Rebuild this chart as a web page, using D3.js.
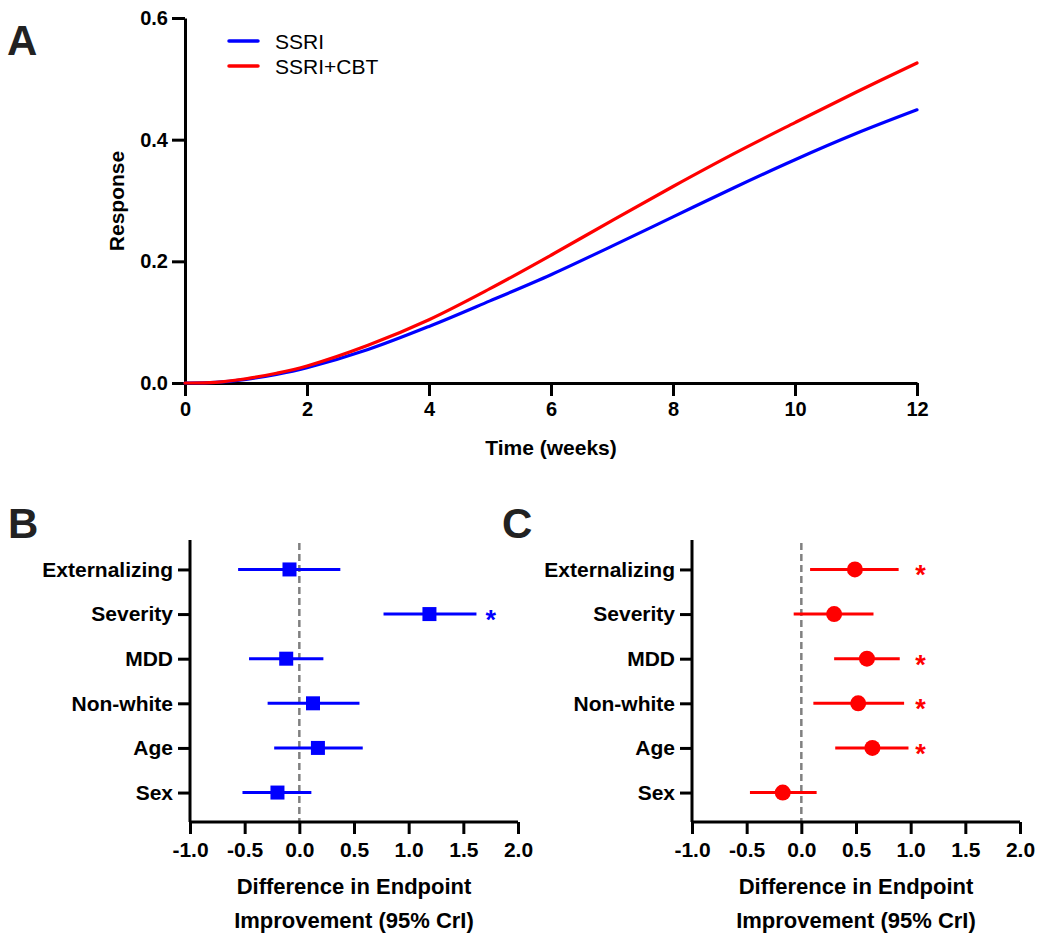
<!DOCTYPE html>
<html><head><meta charset="utf-8">
<script src="https://cdn.jsdelivr.net/npm/d3@7"></script>
<style>
body{margin:0;background:#fff;}
svg text{font-family:"Liberation Sans",Arial,Helvetica,sans-serif;}
</style></head>
<body><svg id="c" width="1050" height="936"></svg>
<script>
// Panel A data
const weeks = [0,0.5,1,1.5,2,3,4,5,6,7,8,9,10,11,12];
const ssri = [0,0.001,0.006,0.014,0.025,0.055,0.093,0.135,0.178,0.225,0.273,0.321,0.367,0.41,0.449];
const ssriCbt = [0,0.001,0.007,0.016,0.028,0.062,0.104,0.155,0.21,0.267,0.323,0.377,0.428,0.478,0.526];
const seriesNames = ["SSRI","SSRI+CBT"];
const seriesColors = ["#0000ff","#ff0000"];
const yTicksA = [0,0.2,0.4,0.6];
const xTicksA = [0,2,4,6,8,10,12];

// Panels B/C data
const categories = ["Externalizing","Severity","MDD","Non-white","Age","Sex"];
const bEst = [-0.09,1.19,-0.12,0.125,0.17,-0.2];
const bLow = [-0.56,0.77,-0.46,-0.29,-0.23,-0.52];
const bHigh = [0.375,1.62,0.22,0.55,0.58,0.11];
const bSig = [false,true,false,false,false,false];
const cEst = [0.49,0.3,0.6,0.52,0.65,-0.17];
const cLow = [0.08,-0.07,0.3,0.11,0.31,-0.47];
const cHigh = [0.89,0.66,0.9,0.94,0.98,0.14];
const cSig = [true,false,true,true,true,false];
const xTicksBC = [-1.0,-0.5,0.0,0.5,1.0,1.5,2.0];

const svg = d3.select("#c");
const F = "Liberation Sans,Arial,Helvetica,sans-serif";
const fmt1 = v => d3.format(".1f")(v).replace("\u2212","-");

function styleAxis(g, fs){
  g.select(".domain").attr("stroke","#000").attr("stroke-width",3);
  g.selectAll(".tick line").attr("stroke","#000").attr("stroke-width",3);
  g.selectAll(".tick text").attr("fill","#000").attr("font-size",fs).attr("font-weight","bold").attr("font-family",F);
}

// ---------- Panel A ----------
const xA = d3.scaleLinear().domain([0,12]).range([185,917]);
const yA = d3.scaleLinear().domain([0,0.6]).range([383,18]);

const gx = svg.append("g").attr("transform","translate(0,383)")
  .call(d3.axisBottom(xA).tickValues(xTicksA).tickFormat(d3.format("d")).tickSize(13).tickPadding(6).tickSizeOuter(0));
styleAxis(gx,20);
const gy = svg.append("g").attr("transform","translate(185,0)")
  .call(d3.axisLeft(yA).tickValues(yTicksA).tickFormat(fmt1).tickSize(13).tickPadding(4).tickSizeOuter(0));
styleAxis(gy,20);

const line = d3.line().x((d,i)=>xA(weeks[i])).y(d=>yA(d)).curve(d3.curveCatmullRom.alpha(0.5));
[ssri, ssriCbt].forEach((s,k)=>{
  svg.append("path").datum(s).attr("d",line).attr("fill","none")
    .attr("stroke",seriesColors[k]).attr("stroke-width",3.2).attr("stroke-linecap","round");
});

// legend
seriesNames.forEach((n,k)=>{
  const y = 41 + k*25;
  svg.append("line").attr("x1",229).attr("x2",258).attr("y1",y).attr("y2",y)
    .attr("stroke",seriesColors[k]).attr("stroke-width",3.5).attr("stroke-linecap","round");
  svg.append("text").attr("x",275).attr("y",y+7.5).attr("font-size",21).attr("fill","#000").text(n);
});

svg.append("text").attr("transform","translate(124,201) rotate(-90)").attr("text-anchor","middle")
  .attr("font-size",21).attr("font-weight","bold").text("Response");
svg.append("text").attr("x",551).attr("y",455).attr("text-anchor","middle")
  .attr("font-size",21).attr("font-weight","bold").text("Time (weeks)");
svg.append("text").attr("x",7).attr("y",55).attr("font-size",42).attr("font-weight","bold").attr("fill","#222").text("A");

// ---------- Panels B & C ----------
function forest(x0, est, low, high, sig, color, shape, letter, letterX){
  const x = d3.scaleLinear().domain([-1,2]).range([x0, x0+328]);
  const y = d3.scalePoint().domain(categories).range([540,822]).padding(0.66);

  svg.append("line").attr("x1",x(0)).attr("x2",x(0)).attr("y1",543).attr("y2",822)
    .attr("stroke","#808080").attr("stroke-width",2.5).attr("stroke-dasharray","7,4");

  const ax = svg.append("g").attr("transform","translate(0,822)")
    .call(d3.axisBottom(x).tickValues(xTicksBC).tickFormat(fmt1).tickSize(12).tickPadding(8).tickSizeOuter(0));
  styleAxis(ax,21);
  ax.select(".domain").attr("d",`M${x0},0H${x0+328}`);
  const ay = svg.append("g").attr("transform",`translate(${x0},0)`)
    .call(d3.axisLeft(y).tickSize(12).tickPadding(5).tickSizeOuter(0));
  styleAxis(ay,21);
  ay.select(".domain").attr("d","M0,540V822");

  categories.forEach((c,i)=>{
    svg.append("line").attr("x1",x(low[i])).attr("x2",x(high[i])).attr("y1",y(c)).attr("y2",y(c))
      .attr("stroke",color).attr("stroke-width",3);
    if(shape==="square"){
      svg.append("rect").attr("x",x(est[i])-7).attr("y",y(c)-7).attr("width",14).attr("height",14).attr("fill",color);
    } else {
      svg.append("circle").attr("cx",x(est[i])).attr("cy",y(c)).attr("r",8).attr("fill",color);
    }
    if(sig[i]){
      const sx = shape==="square" ? x(1.75) : x(1.09);
      svg.append("text").attr("x",sx).attr("y",y(c)+15).attr("text-anchor","middle")
        .attr("font-size",27).attr("font-weight","bold").attr("fill",color).text("*");
    }
  });

  const cx = x0+164;
  svg.append("text").attr("x",cx).attr("y",894).attr("text-anchor","middle").attr("font-size",22).attr("font-weight","bold").text("Difference in Endpoint");
  svg.append("text").attr("x",cx).attr("y",928).attr("text-anchor","middle").attr("font-size",22).attr("font-weight","bold").text("Improvement (95% CrI)");
  svg.append("text").attr("x",letterX).attr("y",538).attr("font-size",42).attr("font-weight","bold").attr("fill","#222").text(letter);
}
forest(190, bEst, bLow, bHigh, bSig, "#0000ff", "square", "B", 8);
forest(692, cEst, cLow, cHigh, cSig, "#ff0000", "circle", "C", 502);
</script></body></html>
